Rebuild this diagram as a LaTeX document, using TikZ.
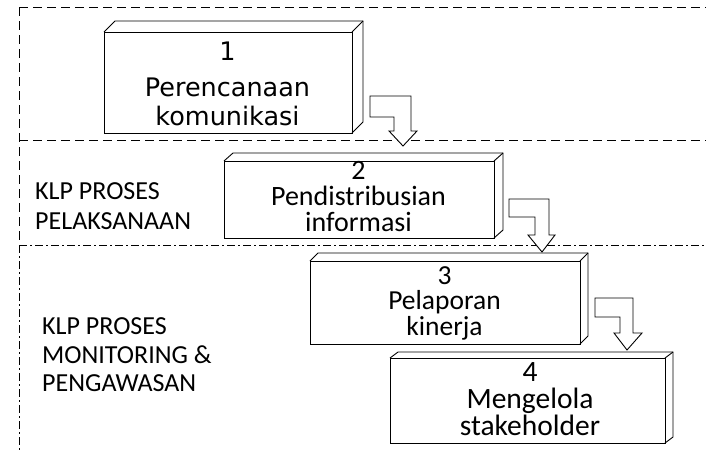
\documentclass[tikz,border=0pt]{standalone}
\usepackage{fontspec}
\setmainfont{Carlito}
\newfontfamily\boxonefont{DejaVu Sans}
\usetikzlibrary{calc}
\begin{document}
\begin{tikzpicture}[x=1pt,y=-1pt,
  frameline/.style={line width=0.8pt, dash pattern=on 9pt off 5pt},
  framedd/.style={line width=0.8pt, dash pattern=on 8pt off 3pt on 2pt off 3pt},
  procbox/.style={draw, fill=white, line width=0.9pt, inner sep=0pt, outer sep=0pt},
  boxline/.style={line width=0.9pt, line join=miter},
  boxtext/.style={align=center, inner sep=0pt, font=\fontsize{28}{26}\selectfont},
  grouplabel/.style={align=left, anchor=west, inner sep=0pt},
  blockarrow/.style={draw, fill=white, line width=0.9pt, line join=miter}]
\useasboundingbox (0,0) rectangle (706,450);
\fill[white] (0,0) rectangle (706,450);

% frame lines
\coordinate (tl) at (19,7);
\coordinate (tr) at (706,7);
\coordinate (ml) at (19,140);
\coordinate (mr) at (706,140);
\coordinate (ll) at (19,245);
\coordinate (lr) at (706,245);
\coordinate (bl) at (19,450);
\draw[frameline] (tl) -- (tr);
\draw[frameline] (tl) -- (ll);
\draw[frameline] (ml) -- (mr);
\draw[framedd] (ll) -- (lr);
\draw[framedd] (ll) -- (bl);

% group labels
\node[grouplabel, font=\fontsize{26}{30}\selectfont] (g1) at (35,206) {KLP PROSES\\PELAKSANAAN};
\node[grouplabel, font=\fontsize{26}{28.5}\selectfont] (g2) at (42,355) {KLP PROSES\\MONITORING \&\\PENGAWASAN};

% box 1
\node[procbox, minimum width=248pt, minimum height=101pt] (b1) at (228,82.5) {};
\draw[boxline] (b1.north west) -- ++(11,-11) -- ($(b1.north east)+(11,-11)$) -- ($(b1.south east)+(11,-11)$) -- (b1.south east);
\draw[boxline] (b1.north east) -- ++(11,-11);
\node[align=center, inner sep=0pt, font=\boxonefont\fontsize{25.5}{29}\selectfont] (t1) at (227.5,84) {1\\[7pt]Perencanaan\\komunikasi};

% box 2
\node[procbox, minimum width=270pt, minimum height=77pt] (b2) at (359,199.5) {};
\draw[boxline] (b2.north west) -- ++(9,-8) -- ($(b2.north east)+(9,-8)$) -- ($(b2.south east)+(9,-8)$) -- (b2.south east);
\draw[boxline] (b2.north east) -- ++(9,-8);
\node[boxtext] (t2) at (358.5,197) {2\\Pendistribusian\\informasi};

% box 3
\node[procbox, minimum width=270pt, minimum height=83pt] (b3) at (445,302.5) {};
\draw[boxline] (b3.north west) -- ++(8,-8) -- ($(b3.north east)+(8,-8)$) -- ($(b3.south east)+(8,-8)$) -- (b3.south east);
\draw[boxline] (b3.north east) -- ++(8,-8);
\node[boxtext, font=\fontsize{27.5}{25.5}\selectfont] (t3) at (444.5,303) {3\\Pelaporan\\kinerja};

% box 4
\node[procbox, minimum width=275pt, minimum height=85pt] (b4) at (527.5,400.5) {};
\draw[boxline] (b4.north west) -- ++(8,-6) -- ($(b4.north east)+(8,-6)$) -- ($(b4.south east)+(8,-6)$) -- (b4.south east);
\draw[boxline] (b4.north east) -- ++(8,-6);
\node[boxtext, font=\fontsize{29.5}{27}\selectfont] (t4) at (530,399) {4\\Mengelola\\stakeholder};

% bent block arrows
\draw[blockarrow] (370,96) -- (411,96) -- (411,131) -- (417,131) -- (403,146) -- (389,131) -- (394,131) -- (394,117) -- (370,117) -- cycle;
\draw[blockarrow] (509,199) -- (549,199) -- (549,235) -- (555,235) -- (542,252) -- (528,235) -- (535,235) -- (535,217) -- (509,217) -- cycle;
\draw[blockarrow] (595,298) -- (633,298) -- (633,333) -- (642,333) -- (627,350) -- (614,333) -- (620,333) -- (620,317) -- (595,317) -- cycle;
\end{tikzpicture}
\end{document}
